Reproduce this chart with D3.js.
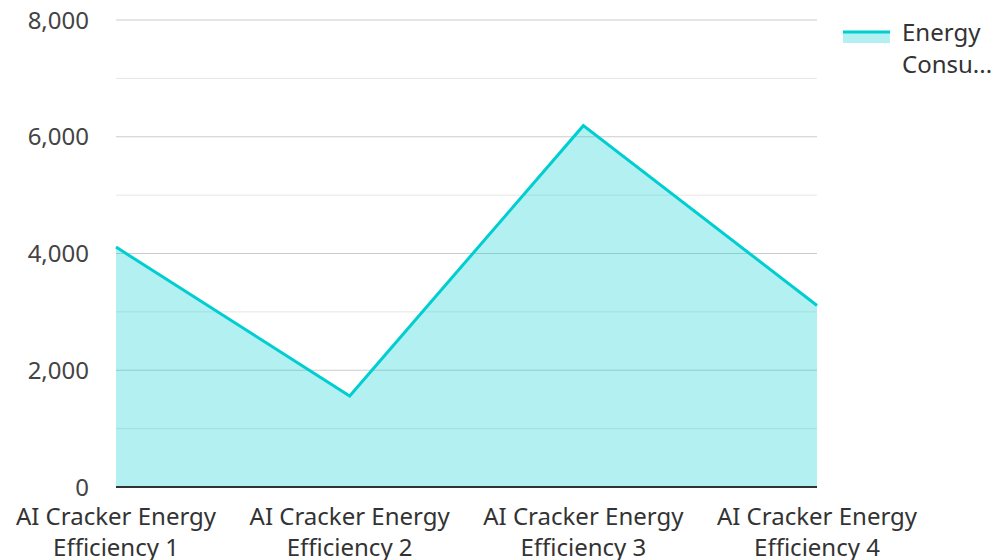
<!DOCTYPE html>
<html>
<head>
    <script type="text/javascript" src="https://d3js.org/d3.v7.min.js"></script>
    <style>
        body { margin: 0; background: white; }
        text { font-family: "Noto Sans", sans-serif; }
    </style>
</head>
<body>
    <div id="chart"></div>
    <script type="text/javascript">
        // data
        const categories = ["AI Cracker Energy Efficiency 1", "AI Cracker Energy Efficiency 2",
            "AI Cracker Energy Efficiency 3", "AI Cracker Energy Efficiency 4"];
        const energyValues = [4110, 1560, 6190, 3110];
        const yTicks = [0, 2000, 4000, 6000, 8000];
        const yMinorTicks = [1000, 3000, 5000, 7000];
        const seriesName = "Energy Consumption";

        const width = 996, height = 560;
        const plotLeft = 116, plotRight = 817, plotTop = 20, plotBottom = 487;
        const lineColor = "#00CED1";
        const fontSize = "24px";

        const svg = d3.select("#chart").append("svg")
            .attr("width", width)
            .attr("height", height);

        const x = d3.scalePoint().domain(categories).range([plotLeft, plotRight]).padding(0);
        const y = d3.scaleLinear().domain([0, 8000]).range([plotBottom, plotTop]);

        // grid
        svg.selectAll("line.minor")
            .data(yMinorTicks)
            .enter().append("line")
            .attr("class", "minor")
            .attr("x1", plotLeft).attr("x2", plotRight)
            .attr("y1", d => y(d)).attr("y2", d => y(d))
            .style("stroke", "#e6e6e6").style("stroke-width", 1);

        svg.selectAll("line.major")
            .data(yTicks.filter(d => d > 0))
            .enter().append("line")
            .attr("class", "major")
            .attr("x1", plotLeft).attr("x2", plotRight)
            .attr("y1", d => y(d)).attr("y2", d => y(d))
            .style("stroke", "#cccccc").style("stroke-width", 1);

        // area + line
        const area = d3.area()
            .x((d, i) => x(categories[i]))
            .y0(y(0))
            .y1(d => y(d));
        const line = d3.line()
            .x((d, i) => x(categories[i]))
            .y(d => y(d));

        svg.append("path")
            .datum(energyValues)
            .attr("d", area)
            .style("fill", lineColor)
            .style("fill-opacity", 0.3);

        svg.append("path")
            .datum(energyValues)
            .attr("d", line)
            .style("fill", "none")
            .style("stroke", lineColor)
            .style("stroke-width", 3)
            .style("stroke-linejoin", "miter");

        // y axis labels
        svg.selectAll("text.ylab")
            .data(yTicks)
            .enter().append("text")
            .attr("class", "ylab")
            .attr("x", 89)
            .attr("y", d => y(d) + 8.5)
            .attr("text-anchor", "end")
            .style("font-size", fontSize)
            .style("fill", "#444")
            .text(d => d3.format(",")(d));

        // x axis baseline
        svg.append("line")
            .attr("x1", plotLeft).attr("x2", plotRight)
            .attr("y1", plotBottom).attr("y2", plotBottom)
            .style("stroke", "#333").style("stroke-width", 2);

        // x labels, two lines
        const xl = svg.selectAll("text.xlab")
            .data(categories)
            .enter().append("text")
            .attr("class", "xlab")
            .attr("text-anchor", "middle")
            .style("font-size", fontSize)
            .style("fill", "#333");
        xl.append("tspan")
            .attr("x", d => x(d)).attr("y", 525)
            .text(d => d.split(" ").slice(0, 3).join(" "));
        xl.append("tspan")
            .attr("x", d => x(d)).attr("y", 556)
            .text(d => d.split(" ").slice(3).join(" "));

        // legend
        svg.append("rect")
            .attr("x", 843).attr("y", 31).attr("width", 47).attr("height", 12)
            .style("fill", lineColor).style("fill-opacity", 0.3);
        svg.append("line")
            .attr("x1", 843).attr("x2", 890).attr("y1", 32).attr("y2", 32)
            .style("stroke", lineColor).style("stroke-width", 3);
        const lt = svg.append("text")
            .style("font-size", fontSize)
            .style("fill", "#333");
        lt.append("tspan").attr("x", 902).attr("y", 40.5).text(seriesName.split(" ")[0]);
        lt.append("tspan").attr("x", 902).attr("y", 72.5).text(seriesName.split(" ")[1].slice(0, 5) + "...");
    </script>
</body>
</html>
